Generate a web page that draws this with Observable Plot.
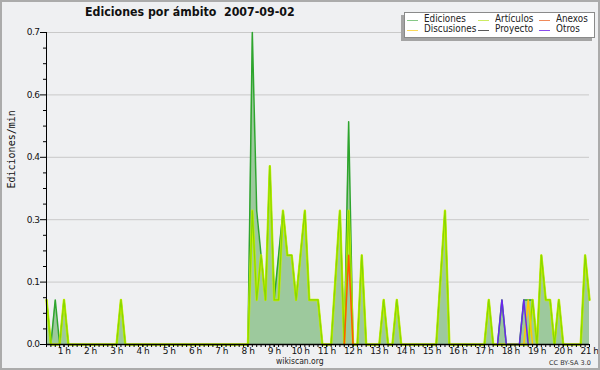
<!DOCTYPE html>
<html>
<head>
<meta charset="utf-8">
<script src="https://cdn.jsdelivr.net/npm/d3@7"></script>
<script src="https://cdn.jsdelivr.net/npm/@observablehq/plot@0.6"></script>
<style>
  html, body { margin: 0; padding: 0; background: #eff0f2; }
  #wrap { position: relative; width: 600px; height: 370px; background: #eff0f2; overflow: hidden; }
  #wrap svg { position: absolute; left: 0; top: 0; }
  .ov { position: absolute; white-space: nowrap; color: #111; }
  .sx { display: inline-block; transform-origin: 0 0; }
  #title { left: 85px; top: 4px; font: bold 13px "DejaVu Sans", sans-serif; line-height: 16px; }
  #title .sx { transform: scaleX(0.85); }
  #legend { left: 404px; top: 12px; width: 189px; height: 24px; background: #fff; border: 1px solid #8a8a8a;
            box-shadow: -3px 3px 0 #a4a4a4; font: 10px "DejaVu Sans", sans-serif; }
  .li { position: absolute; height: 10px; line-height: 10px; width: 10px; }
  .li i { position: absolute; left: 0; top: 5px; width: 11px; height: 1px; }
  .li span.sx { position: absolute; left: 17px; top: -1px; color: #222; transform: scaleX(0.88); }
  #site { left: 276px; top: 356px; font: 8.5px "DejaVu Sans", sans-serif; line-height: 10px; color: #222; }
  #site .sx { transform: scaleX(0.9); }
  #cc { left: 549px; top: 359px; font: 6.5px "DejaVu Sans", sans-serif; line-height: 8px; color: #333; }
  #border { position: absolute; left: 0; top: 0; width: 600px; height: 370px; box-sizing: border-box; border: 2px solid #ababab; pointer-events: none; }
</style>
</head>
<body>
<div id="wrap"></div>
<script>
// ---- data (edits per minute, 10-minute bins) ----
const ediciones = [
  ["00:20",0.1],["00:30",0],["00:40",0.1],["00:50",0],["01:00",0.1],["01:10",0],
  ["03:00",0],["03:10",0.1],["03:20",0],
  ["08:00",0],["08:10",0.7],["08:20",0.3],["08:30",0.2],["08:40",0.1],["08:50",0.4],["09:00",0.1],
  ["09:10",0.2],["09:20",0.3],["09:30",0.2],["09:40",0.2],["09:50",0.1],["10:00",0.2],["10:10",0.3],
  ["10:20",0.1],["10:30",0.1],["10:40",0.1],["10:50",0],
  ["11:10",0],["11:20",0.15],["11:30",0.3],["11:40",0],["11:50",0.5],["12:00",0],["12:10",0],["12:20",0.2],["12:30",0],
  ["13:00",0],["13:10",0.1],["13:20",0],["13:30",0],["13:40",0.1],["13:50",0],
  ["15:10",0],["15:20",0.15],["15:30",0.3],["15:40",0],
  ["17:00",0],["17:10",0.1],["17:20",0],["17:30",0],["17:40",0.1],["17:50",0],
  ["18:20",0],["18:30",0.1],["18:40",0.1],["18:50",0.1],["19:00",0],["19:10",0.2],["19:20",0.1],["19:30",0.1],
  ["19:40",0],["19:50",0.1],["20:00",0],
  ["20:40",0],["20:50",0.2],["21:00",0.1]
];
const articulos = [
  ["00:20",0.1],["00:30",0],["00:40",0],["00:50",0],["01:00",0.1],["01:10",0],
  ["03:00",0],["03:10",0.1],["03:20",0],
  ["08:00",0],["08:10",0.3],["08:20",0.1],["08:30",0.2],["08:40",0.1],["08:50",0.4],["09:00",0.1],
  ["09:10",0.1],["09:20",0.3],["09:30",0.2],["09:40",0.2],["09:50",0.1],["10:00",0.2],["10:10",0.3],
  ["10:20",0.1],["10:30",0.1],["10:40",0.1],["10:50",0],
  ["11:10",0],["11:20",0.15],["11:30",0.3],["11:40",0],["11:50",0.3],["12:00",0],["12:10",0],["12:20",0.2],["12:30",0],
  ["13:00",0],["13:10",0.1],["13:20",0],["13:30",0],["13:40",0.1],["13:50",0],
  ["15:10",0],["15:20",0.15],["15:30",0.3],["15:40",0],
  ["17:00",0],["17:10",0.1],["17:20",0],
  ["18:40",0],["18:50",0.1],["19:00",0],["19:10",0.2],["19:20",0.1],["19:30",0.1],["19:40",0],["19:50",0.1],["20:00",0],
  ["20:40",0],["20:50",0.2],["21:00",0.1]
];
const anexos = [["11:40",0],["11:50",0.2],["12:00",0]];
const discusiones = [["18:30",0],["18:40",0.1],["18:50",0]];
const proyecto = [];
const otros = [["17:30",0],["17:40",0.1],["17:50",0],["18:20",0],["18:30",0.1],["18:40",0]];

const seriesNames = ["Ediciones","Artículos","Anexos","Discusiones","Proyecto","Otros"];
const legendColors = ["#86c886","#cdeb62","#f08a5a","#fbd95a","#5a5a5a","#8a4cee"];

const yTicks = [0, 0.14, 0.28, 0.42, 0.56, 0.7];
const yTickLabels = ["0.0","0.1","0.3","0.4","0.6","0.7"];
const hourTicks = [1,2,3,4,5,6,7,8,9,10,11,12,13,14,15,16,17,18,19,20,21];
const xStart = "00:20", xEnd = "21:00";

// ---- helpers ----
const toH = s => { const [h, m] = s.split(":").map(Number); return h + m / 60; };
const rows = arr => arr.map(([t, v]) => ({h: toH(t), v}));
const xDomain = [toH(xStart), toH(xEnd)];
const xMinor = d3.range(Math.round(xDomain[0] * 6), Math.round(xDomain[1] * 6) + 1).map(k => k / 6);
const yMinor = d3.range(0, 21).map(k => k * 0.035).filter(v => !yTicks.some(t => Math.abs(t - v) < 1e-6));

const tickFont = '"DejaVu Sans", sans-serif';

const chart = Plot.plot({
  width: 600,
  height: 370,
  marginLeft: 46,
  marginRight: 11,
  marginTop: 32,
  marginBottom: 26,
  style: {background: "transparent", color: "#111", fontFamily: tickFont},
  x: {domain: xDomain},
  y: {domain: [0, 0.7]},
  marks: [
    Plot.ruleY(yTicks.slice(1), {stroke: "#c9c9c9", strokeWidth: 1}),
    Plot.areaY(rows(ediciones), {x: "h", y: "v", fill: "#9dc99d"}),
    Plot.lineY(rows(ediciones), {x: "h", y: "v", stroke: "#2ea52e", strokeWidth: 1.5}),
    Plot.lineY(rows(articulos), {x: "h", y: "v", stroke: "#c8f000", strokeWidth: 2.4}),
    Plot.lineY(rows(articulos), {x: "h", y: "v", stroke: "#88d800", strokeWidth: 1.2}),
    Plot.lineY(rows(proyecto), {x: "h", y: "v", stroke: "#555", strokeWidth: 1.5}),
    Plot.lineY(rows(anexos), {x: "h", y: "v", stroke: "#ff5a00", strokeWidth: 1.5}),
    Plot.lineY(rows(discusiones), {x: "h", y: "v", stroke: "#ffc800", strokeWidth: 1.5}),
    Plot.lineY(rows(otros), {x: "h", y: "v", stroke: "#6a28ee", strokeWidth: 1.5}),
    Plot.ruleY([0], {stroke: "#000", strokeWidth: 1.5}),
    Plot.ruleX([xDomain[0]], {stroke: "#000", strokeWidth: 1}),
    Plot.axisY(yTicks, {tickSize: 6, tickPadding: 1, fontSize: 9, fontFamily: tickFont, stroke: "#000",
      tickFormat: d => yTickLabels[yTicks.indexOf(d)], label: null}),
    Plot.axisY(yMinor, {tickSize: 3, tickFormat: () => "", label: null, stroke: "#000"}),
    Plot.axisX(xMinor, {tickSize: 3, tickFormat: () => "", label: null, stroke: "#000"}),
    Plot.axisX(hourTicks, {tickSize: 3, tickPadding: 0, fontSize: 9, fontFamily: tickFont, stroke: "#000",
      tickFormat: d => `${d} h`, label: null}),
    Plot.text(["Ediciones/min"], {frameAnchor: "left", rotate: -90, dx: -35, dy: 0,
      fontFamily: '"DejaVu Sans Mono", monospace', fontSize: 10, fill: "#111"})
  ]
});

// tighten tick label spacing (the reference uses a narrow rendering)
chart.querySelectorAll("text").forEach(t => {
  if (/^\d/.test(t.textContent)) t.style.letterSpacing = "-0.5px";
});

const wrap = document.getElementById("wrap");
wrap.appendChild(chart);

function ov(id, text) {
  const d = document.createElement("div");
  d.className = "ov"; d.id = id;
  const s = document.createElement("span"); s.className = "sx"; s.textContent = text;
  d.appendChild(s); wrap.appendChild(d); return d;
}
ov("title", "Ediciones por ámbito\u00a0\u00a02007-09-02");
ov("site", "wikiscan.org");
ov("cc", "CC BY-SA 3.0");

const legend = document.createElement("div");
legend.id = "legend"; legend.className = "ov";
const cols = [2, 73, 134];
const rowsY = [2, 12];
// column-major as in the reference: Ediciones, Discusiones | Artículos, Proyecto | Anexos, Otros
const order = [[0, 3], [1, 4], [2, 5]];
order.forEach((pair, c) => pair.forEach((si, r) => {
  const it = document.createElement("div");
  it.className = "li";
  it.style.left = cols[c] + "px";
  it.style.top = rowsY[r] + "px";
  const ln = document.createElement("i"); ln.style.background = legendColors[si];
  const tx = document.createElement("span"); tx.className = "sx"; tx.textContent = seriesNames[si];
  it.appendChild(ln); it.appendChild(tx); legend.appendChild(it);
}));
wrap.appendChild(legend);

const b = document.createElement("div"); b.id = "border"; wrap.appendChild(b);
</script>
</body>
</html>
